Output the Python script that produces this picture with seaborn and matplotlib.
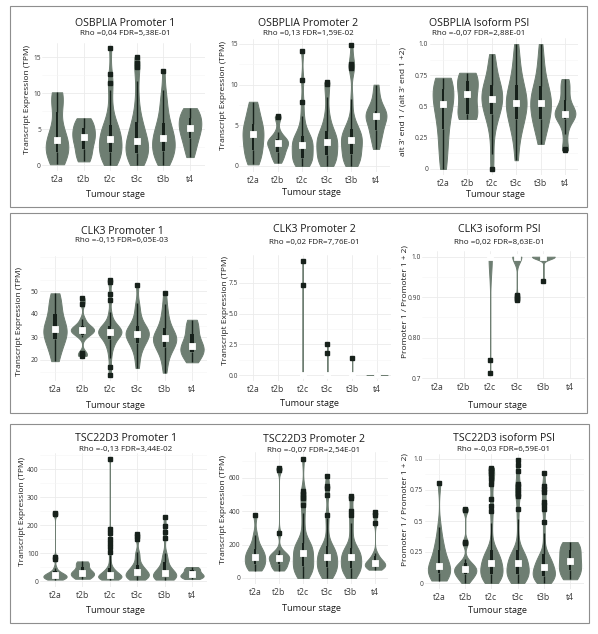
import numpy as np
import pandas as pd
import matplotlib
matplotlib.use("Agg")
import matplotlib.pyplot as plt
import seaborn as sns
from matplotlib.patches import Rectangle
from matplotlib.ticker import AutoMinorLocator

# ---------------- data ----------------
STAGES = ["t2a", "t2b", "t2c", "t3c", "t3b", "t4"]

# OSBPLIA Promoter 1 (TPM)
OSB_P1_T2A = [0.1, 0.8, 1.3, 1.6, 2.1, 2.6, 3.0, 3.5, 3.9, 4.6, 6.0, 8.6, 9.1, 9.6, 10.1]
OSB_P1_T2B = [0.5, 0.9, 1.6, 2.2, 2.9, 3.5, 3.9, 4.1, 4.6, 5.2, 5.7, 6.1, 6.5]
OSB_P1_T2C = [0.0, 0.2, 0.5, 0.8, 1.1, 1.3, 1.6, 1.8, 2.1, 2.4, 2.7, 2.9, 3.1, 3.4, 3.6,
              3.9, 4.2, 4.5, 4.8, 5.1, 5.4, 5.6, 6.3, 7.2, 8.4, 10.4, 11.4, 12.7, 16.2]
OSB_P1_T3C = [0.0, 0.2, 0.4, 0.7, 1.0, 1.2, 1.5, 1.7, 2.0, 2.3, 2.5, 2.8, 3.0, 3.2, 3.4,
              3.7, 4.0, 4.4, 4.8, 5.3, 5.8, 6.0, 6.9, 8.0, 9.5, 11.7, 13.6, 14.2, 15.0]
OSB_P1_T3B = [0.0, 0.4, 0.8, 1.1, 1.4, 1.7, 2.0, 2.3, 2.6, 2.9, 3.2, 3.4, 3.7, 4.0, 4.3,
              4.7, 5.1, 5.5, 5.9, 6.6, 7.4, 8.3, 9.2, 10.4, 13.0]
OSB_P1_T4 = [1.1, 2.2, 3.0, 3.7, 4.3, 4.8, 5.2, 5.6, 6.1, 6.5, 7.0, 7.5, 7.9]

# OSBPLIA Promoter 2 (TPM)
OSB_P2_T2A = [0.2, 0.9, 1.5, 2.0, 2.7, 3.3, 3.9, 4.3, 4.7, 5.2, 6.0, 7.0, 7.9]
OSB_P2_T2B = [0.4, 0.8, 1.2, 1.5, 1.7, 2.0, 2.3, 2.6, 2.8, 2.9, 3.0, 3.1, 3.3, 3.5, 4.2, 6.0, 6.1]
OSB_P2_T2C = [0.0, 0.2, 0.3, 0.5, 0.7, 0.9, 1.0, 1.3, 1.6, 1.9, 2.1, 2.4, 2.6, 2.8, 3.0,
              3.2, 3.4, 3.5, 3.7, 4.3, 5.0, 6.2, 7.9, 10.6, 14.2]
OSB_P2_T3C = [0.0, 0.2, 0.4, 0.6, 0.8, 1.0, 1.3, 1.6, 1.9, 2.2, 2.5, 2.7, 2.9, 3.1, 3.3,
              3.6, 3.8, 4.0, 4.3, 4.9, 5.6, 6.6, 8.5, 10.1, 10.3]
OSB_P2_T3B = [0.0, 0.2, 0.4, 0.6, 0.8, 1.0, 1.2, 1.5, 1.8, 2.1, 2.4, 2.6, 2.8, 3.0, 3.2,
              3.4, 3.6, 3.8, 4.0, 4.2, 4.4, 4.6, 5.2, 6.0, 8.2, 12.0, 12.3, 12.6, 14.9]
OSB_P2_T4 = [2.1, 3.2, 4.0, 4.4, 5.2, 5.7, 6.1, 6.3, 6.5, 6.8, 7.5, 8.6, 10.0]

# OSBPLIA isoform PSI
OSB_PSI_T2A = [0.0, 0.12, 0.22, 0.32, 0.40, 0.47, 0.52, 0.56, 0.60, 0.64, 0.68, 0.71, 0.73]
OSB_PSI_T2B = [0.40, 0.42, 0.44, 0.52, 0.60, 0.64, 0.70, 0.75, 0.77]
OSB_PSI_T2C = [0.0, 0.12, 0.25, 0.33, 0.38, 0.42, 0.44, 0.47, 0.49, 0.51, 0.53, 0.55, 0.56,
               0.58, 0.60, 0.62, 0.64, 0.66, 0.67, 0.70, 0.73, 0.77, 0.82, 0.87, 0.92]
OSB_PSI_T3C = [0.07, 0.18, 0.26, 0.31, 0.35, 0.38, 0.40, 0.43, 0.46, 0.48, 0.50, 0.52, 0.53,
               0.55, 0.57, 0.59, 0.62, 0.64, 0.67, 0.70, 0.74, 0.79, 0.85, 0.92, 1.0]
OSB_PSI_T3B = [0.20, 0.25, 0.30, 0.34, 0.37, 0.39, 0.40, 0.43, 0.46, 0.48, 0.50, 0.52, 0.53,
               0.55, 0.57, 0.59, 0.61, 0.63, 0.66, 0.69, 0.73, 0.78, 0.84, 0.91, 1.0]
OSB_PSI_T4 = [0.15, 0.16, 0.28, 0.35, 0.40, 0.42, 0.43, 0.44, 0.44, 0.46, 0.48, 0.51, 0.55,
              0.60, 0.65, 0.69, 0.72]

# CLK3 Promoter 1 (TPM)
CLK_P1_T2A = [19.5, 24, 27, 29, 31, 32.5, 33.5, 34.5, 36, 40, 43, 46, 49]
CLK_P1_T2B = [21.8, 22.5, 23.0, 30.0, 31.0, 31.8, 32.3, 32.7, 33.0, 33.3, 33.7, 34.2, 35.0,
              36.0, 38.0, 44.5, 47.0]
CLK_P1_T2C = [13.5, 17.0, 21.0, 23.5, 25.5, 26.5, 27.5, 28.3, 29.0, 29.7, 30.3, 30.8, 31.2,
              31.5, 31.7, 31.9, 32.0, 32.3, 32.7, 33.0, 33.5, 34.0, 34.4, 34.8, 35.0, 35.8,
              36.8, 38.5, 41.0, 46.0, 48.5, 54.0, 55.0]
CLK_P1_T3C = [16.5, 20.0, 22.5, 24.5, 26.0, 27.0, 27.5, 28.5, 29.3, 30.0, 30.6, 31.1, 31.5,
              31.9, 32.3, 32.8, 33.5, 34.2, 35.0, 36.0, 37.5, 39.5, 42.0, 45.0, 52.5]
CLK_P1_T3B = [14.5, 18.0, 20.5, 22.5, 24.0, 25.0, 25.5, 26.5, 27.3, 28.0, 28.6, 29.1, 29.5,
              30.0, 30.6, 31.3, 32.0, 33.0, 34.0, 35.5, 37.0, 39.0, 41.5, 44.5, 49.0]
CLK_P1_T4 = [19.0, 21.5, 23.0, 24.0, 25.0, 26.0, 27.5, 30.0, 33.0, 35.5, 37.5]

# CLK3 Promoter 2 (TPM) - mostly zero
CLK_P2_T2C = [0, 0, 0, 0, 0, 0, 0, 0, 0, 0, 0, 0, 7.3, 9.3]
CLK_P2_T3C = [0, 0, 0, 0, 0, 0, 0, 0, 0, 0, 0, 0, 1.8, 2.5]
CLK_P2_T3B = [0, 0, 0, 0, 0, 0, 0, 0, 0, 0, 0, 0, 1.4]
CLK_P2_T4 = [0, 0, 0, 0, 0, 0, 0, 0, 0, 0.01]

# CLK3 isoform PSI - mostly one
CLK_PSI_T2C = [1.0, 1.0, 1.0, 1.0, 1.0, 1.0, 1.0, 1.0, 1.0, 1.0, 1.0, 1.0, 1.0, 1.0, 1.0,
               1.0, 1.0, 1.0, 0.713, 0.745]
CLK_PSI_T3C = [1.0, 1.0, 1.0, 1.0, 1.0, 1.0, 1.0, 1.0, 1.0, 1.0, 1.0, 1.0, 1.0, 1.0, 1.0,
               1.0, 1.0, 1.0, 1.0, 1.0, 1.0, 1.0, 1.0, 1.0, 1.0, 1.0, 1.0, 1.0, 1.0, 1.0,
               1.0, 1.0, 1.0, 1.0, 1.0, 0.893, 0.896, 0.899, 0.902, 0.905]
CLK_PSI_T3B = [1.0, 1.0, 1.0, 1.0, 1.0, 1.0, 1.0, 1.0, 1.0, 1.0, 1.0, 1.0, 1.0, 1.0, 1.0,
               1.0, 1.0, 1.0, 1.0, 1.0, 0.94]

# TSC22D3 Promoter 1 (TPM)
TSC_P1_T2A = [5, 7, 8, 10, 11, 12, 14, 16, 18, 20, 21, 23, 25, 27, 30, 35, 48, 80, 85, 238, 242]
TSC_P1_T2B = [8, 12, 18, 25, 28, 30, 33, 45, 58, 65, 70]
TSC_P1_T2C = [5, 6, 7, 8, 9, 10, 10, 11, 11, 12, 12, 12, 13, 14, 15, 16, 17, 18, 19, 20, 21,
              22, 24, 25, 27, 29, 31, 33, 35, 37, 39, 41, 45, 52, 60, 75, 92, 105, 120, 135,
              150, 170, 185, 435]
TSC_P1_T3C = [5, 7, 9, 10, 12, 13, 15, 17, 19, 21, 23, 25, 27, 29, 31, 33, 36, 39, 42, 46,
              50, 55, 60, 70, 85, 95, 105, 150, 160, 168]
TSC_P1_T3B = [5, 6, 8, 9, 11, 12, 13, 15, 16, 18, 20, 22, 24, 26, 28, 30, 33, 36, 40, 45,
              52, 60, 70, 80, 90, 100, 155, 175, 195, 228]
TSC_P1_T4 = [7, 10, 13, 16, 19, 21, 24, 28, 33, 38, 43, 47, 50]

# TSC22D3 Promoter 2 (TPM)
TSC_P2_T2A = [45, 55, 65, 80, 90, 105, 118, 128, 140, 152, 165, 180, 210, 260, 378]
TSC_P2_T2B = [45, 55, 62, 70, 78, 88, 98, 108, 115, 120, 125, 130, 136, 142, 150, 170, 270,
              650, 662]
TSC_P2_T2C = [0, 8, 18, 28, 38, 46, 54, 62, 68, 72, 80, 90, 100, 110, 120, 130, 140, 148,
              156, 165, 174, 182, 190, 197, 203, 208, 215, 270, 330, 390, 440, 480, 505,
              525, 712]
TSC_P2_T3C = [0, 8, 16, 25, 34, 42, 50, 57, 63, 67, 74, 82, 90, 98, 106, 113, 119, 125, 132,
              140, 148, 156, 164, 172, 180, 186, 194, 230, 290, 360, 380, 500, 540, 555, 610]
TSC_P2_T3B = [0, 10, 20, 30, 40, 48, 54, 58, 62, 70, 78, 86, 95, 104, 112, 118, 124, 130,
              137, 144, 152, 160, 168, 174, 180, 200, 240, 290, 330, 380, 400, 480, 495]
TSC_P2_T4 = [50, 58, 64, 68, 72, 76, 80, 86, 92, 98, 105, 115, 130, 150, 330, 380, 395]

# TSC22D3 isoform PSI
TSC_PSI_T2A = [0.02, 0.04, 0.05, 0.06, 0.08, 0.10, 0.12, 0.13, 0.14, 0.16, 0.19, 0.22, 0.27,
               0.30, 0.35, 0.45, 0.81]
TSC_PSI_T2B = [0.0, 0.02, 0.04, 0.05, 0.06, 0.07, 0.08, 0.09, 0.10, 0.105, 0.11, 0.12, 0.13,
               0.14, 0.15, 0.16, 0.19, 0.32, 0.33, 0.59, 0.60]
TSC_PSI_T2C = [0.0, 0.01, 0.02, 0.025, 0.03, 0.04, 0.045, 0.05, 0.055, 0.06, 0.065, 0.07,
               0.08, 0.09, 0.10, 0.11, 0.12, 0.125, 0.13, 0.14, 0.15, 0.155, 0.16, 0.17,
               0.18, 0.19, 0.20, 0.21, 0.22, 0.23, 0.24, 0.25, 0.26, 0.27, 0.35, 0.48, 0.58,
               0.62, 0.68, 0.80, 0.84, 0.88, 0.90, 0.92, 0.93]
TSC_PSI_T3C = [0.0, 0.01, 0.02, 0.025, 0.03, 0.04, 0.045, 0.05, 0.055, 0.06, 0.065, 0.07,
               0.08, 0.09, 0.10, 0.11, 0.12, 0.125, 0.13, 0.14, 0.15, 0.155, 0.16, 0.17,
               0.18, 0.19, 0.20, 0.21, 0.22, 0.23, 0.24, 0.25, 0.26, 0.27, 0.38, 0.52, 0.60,
               0.70, 0.72, 0.75, 0.78, 0.80, 0.90, 0.95, 0.99]
TSC_PSI_T3B = [0.0, 0.01, 0.015, 0.02, 0.025, 0.03, 0.035, 0.04, 0.045, 0.05, 0.06, 0.07,
               0.075, 0.08, 0.09, 0.095, 0.10, 0.11, 0.115, 0.12, 0.13, 0.14, 0.15, 0.16,
               0.17, 0.18, 0.19, 0.20, 0.21, 0.22, 0.23, 0.30, 0.40, 0.49, 0.60, 0.63, 0.65,
               0.73, 0.76, 0.78, 0.89]
TSC_PSI_T4 = [0.03, 0.06, 0.09, 0.12, 0.15, 0.18, 0.21, 0.25, 0.28, 0.31, 0.33]

TITLES = ["OSBPLIA Promoter 1", "OSBPLIA Promoter 2", "OSBPLIA Isoform PSI",
          "CLK3 Promoter 1", "CLK3 Promoter 2", "CLK3 isoform PSI",
          "TSC22D3 Promoter 1", "TSC22D3 Promoter 2", "TSC22D3 isoform PSI"]
SUBTITLES = ["Rho =0,04 FDR=5,38E-01", "Rho =0,13 FDR=1,59E-02", "Rho =-0,07 FDR=2,88E-01",
             "Rho =-0,15 FDR=6,05E-03", "Rho =0,02 FDR=7,76E-01", "Rho =0,02 FDR=8,63E-01",
             "Rho =-0,13 FDR=3,44E-02", "Rho =-0,07 FDR=2,54E-01", "Rho =-0,03 FDR=6,59E-01"]
YLAB_TPM = "Transcript Expression (TPM)"
YLAB_ALT = "alt 3' end 1 / (alt 3' end 1 +2)"
YLAB_PSI = "Promoter 1 / Promoter 1 + 2)"
XLAB = "Tumour stage"

YTICKS = [[0, 5, 10, 15], [0, 5, 10, 15], [0, 0.25, 0.5, 0.75, 1.0],
          [20, 30, 40, 50], [0.0, 2.5, 5.0, 7.5], [0.7, 0.8, 0.9, 1.0],
          [0, 100, 200, 300, 400], [0, 200, 400, 600], [0, 0.25, 0.5, 0.75, 1.0]]
YTICKLABELS = [["0", "5", "10", "15"], ["0", "5", "10", "15"], ["0", "0.25", "0.5", "0.75", "1.0"],
               ["20", "30", "40", "50"], ["0.0", "2.5", "5.0", "7.5"], ["0.7", "0.80", "0.90", "1.0"],
               ["0", "100", "200", "300", "400"], ["0", "200", "400", "600"],
               ["0", "0.25", "0.5", "0.75", "1.0"]]

DATA = [
    dict(zip(STAGES, [OSB_P1_T2A, OSB_P1_T2B, OSB_P1_T2C, OSB_P1_T3C, OSB_P1_T3B, OSB_P1_T4])),
    dict(zip(STAGES, [OSB_P2_T2A, OSB_P2_T2B, OSB_P2_T2C, OSB_P2_T3C, OSB_P2_T3B, OSB_P2_T4])),
    dict(zip(STAGES, [OSB_PSI_T2A, OSB_PSI_T2B, OSB_PSI_T2C, OSB_PSI_T3C, OSB_PSI_T3B, OSB_PSI_T4])),
    dict(zip(STAGES, [CLK_P1_T2A, CLK_P1_T2B, CLK_P1_T2C, CLK_P1_T3C, CLK_P1_T3B, CLK_P1_T4])),
    {"t2c": CLK_P2_T2C, "t3c": CLK_P2_T3C, "t3b": CLK_P2_T3B, "t4": CLK_P2_T4},
    {"t2c": CLK_PSI_T2C, "t3c": CLK_PSI_T3C, "t3b": CLK_PSI_T3B},
    dict(zip(STAGES, [TSC_P1_T2A, TSC_P1_T2B, TSC_P1_T2C, TSC_P1_T3C, TSC_P1_T3B, TSC_P1_T4])),
    dict(zip(STAGES, [TSC_P2_T2A, TSC_P2_T2B, TSC_P2_T2C, TSC_P2_T3C, TSC_P2_T3B, TSC_P2_T4])),
    dict(zip(STAGES, [TSC_PSI_T2A, TSC_PSI_T2B, TSC_PSI_T2C, TSC_PSI_T3C, TSC_PSI_T3B, TSC_PSI_T4])),
]

# ---------------- layout / style ----------------
W, H = 598, 634
VIOLIN = "#6e7e72"
BOXC = "#17211b"
GRID = "#ebebeb"
GRID_MINOR = "#f5f5f5"

# pixel anchors: x of first/last category, two (value, y-pixel) pairs, y-limits
LAYOUT = [
    dict(xa=(57, 190), ya=((0, 165), (15, 57)), ylim=(-0.81, 17.0), norm="width",
         title=(125, 26.5, 34.7), ylab=(28, 99), xlab=(115.5, 197)),
    dict(xa=(253, 376), ya=((0, 166), (15, 44)), ylim=(-0.75, 15.65), norm="width",
         title=(308, 26, 34.7), ylab=(224, 95), xlab=(311, 195)),
    dict(xa=(443, 565), ya=((0, 169), (1, 44)), ylim=(-0.05, 1.05), norm="width",
         title=(479, 26, 34.7), ylab=(403, 102), xlab=(496, 196.7)),
    dict(xa=(55, 192), ya=((20, 360), (50, 291)), ylim=(10.9, 65.2), norm="width",
         title=(122, 234.3, 242.3), ylab=(20, 321), xlab=(115, 407.7)),
    dict(xa=(253, 377), ya=((0, 375), (7.5, 283)), ylim=(-0.465, 9.77), norm="area",
         title=(314, 231.7, 243.7), ylab=(225, 310), xlab=(310, 406)),
    dict(xa=(437, 570), ya=((0.7, 378.3), (1.0, 256.7)), ylim=(0.6986, 1.0144), norm="area",
         title=(499, 231.7, 243.7), ylab=(405, 302), xlab=(498, 407.7)),
    dict(xa=(55, 192), ya=((0, 581), (400, 469)), ylim=(-21.5, 456.5), norm="width",
         title=(126, 440.7, 450.7), ylab=(22, 512), xlab=(115.5, 613.3)),
    dict(xa=(255, 375), ya=((0, 578), (600, 478)), ylim=(-36, 756), norm="width",
         title=(314, 441.7, 451.7), ylab=(224, 510), xlab=(311, 611)),
    dict(xa=(439, 570), ya=((0, 583), (1, 459)), ylim=(-0.05, 1.04), norm="width",
         title=(504, 440.7, 450.7), ylab=(405, 510), xlab=(498, 613.3)),
]
YLABELS = [YLAB_TPM, YLAB_TPM, YLAB_ALT, YLAB_TPM, YLAB_TPM, YLAB_PSI, YLAB_TPM, YLAB_TPM, YLAB_PSI]
ROW_BOXES = [(10, 6, 587, 207), (10, 213, 587, 413), (10, 424, 589, 623)]


def nrd0(kde):
    """R-style default bandwidth (bw.nrd0) expressed as a scipy factor."""
    x = np.asarray(kde.dataset).ravel()
    n = x.size
    sd = x.std(ddof=1)
    q75, q25 = np.percentile(x, [75, 25])
    lo = min(sd, (q75 - q25) / 1.34)
    if lo <= 0:
        lo = sd
    return 0.9 * lo / sd * n ** -0.2


sns.set_theme(style="white")
plt.rcParams["font.family"] = ["Open Sans", "DejaVu Sans"]

fig = plt.figure(figsize=(W / 100, H / 100), dpi=100)
fig.patch.set_facecolor("white")

for (x0, y0, x1, y1) in ROW_BOXES:
    fig.patches.append(Rectangle((x0 / W, 1 - y1 / H), (x1 - x0) / W, (y1 - y0) / H,
                                 transform=fig.transFigure, fill=False,
                                 edgecolor="#8e8e8e", linewidth=0.8))

XLIM = (-0.55, 5.55)


def fx(px):
    return px / W


def fy(py):
    return 1 - py / H


for i, lay in enumerate(LAYOUT):
    xa0, xa5 = lay["xa"]
    s = (xa5 - xa0) / 5
    left = xa0 + XLIM[0] * s
    right = xa0 + XLIM[1] * s
    (v1, p1), (v2, p2) = lay["ya"]
    k = (p1 - p2) / (v2 - v1)
    ylo, yhi = lay["ylim"]
    top = p1 - (yhi - v1) * k
    bottom = p1 + (v1 - ylo) * k
    ax = fig.add_axes([left / W, 1 - bottom / H, (right - left) / W, (bottom - top) / H])

    d = DATA[i]
    df = pd.DataFrame([(st, v) for st, vals in d.items() for v in vals], columns=["stage", "value"])

    sns.violinplot(data=df, x="stage", y="value", order=STAGES, color=VIOLIN, saturation=1,
                   inner=None, cut=0, density_norm=lay["norm"], width=0.85, linewidth=0.7,
                   linecolor=VIOLIN, bw_method=nrd0, ax=ax)
    sns.boxplot(data=df, x="stage", y="value", order=STAGES, color=BOXC, saturation=1,
                width=0.11, linewidth=1.0, linecolor=BOXC, showcaps=False, fliersize=2.2,
                boxprops=dict(linewidth=0),
                flierprops=dict(marker="s", markerfacecolor=BOXC, markeredgecolor=BOXC),
                medianprops=dict(linewidth=0, color=BOXC), ax=ax)
    sns.pointplot(data=df, x="stage", y="value", order=STAGES, estimator="median",
                  errorbar=None, color="white", marker="s", markersize=2.6,
                  markeredgecolor="white", linestyle="none", ax=ax)

    ax.set_xlim(*XLIM)
    ax.set_ylim(ylo, yhi)
    ax.set_yticks(YTICKS[i])
    ax.set_yticklabels(YTICKLABELS[i])
    ax.yaxis.set_minor_locator(AutoMinorLocator(2))
    ax.set_xticks(range(len(STAGES)))
    ax.set_xticklabels(STAGES)
    ax.set_xlabel("")
    ax.set_ylabel("")
    ax.set_facecolor("white")
    for sp in ax.spines.values():
        sp.set_visible(False)
    ax.set_axisbelow(True)
    ax.grid(True, which="major", axis="both", color=GRID, linewidth=0.6)
    ax.grid(True, which="minor", axis="y", color=GRID_MINOR, linewidth=0.4)
    ax.tick_params(axis="both", which="both", length=0)
    ax.tick_params(axis="x", labelsize=6.2, pad=3, colors="#3a3a3a")
    ax.tick_params(axis="y", labelsize=4.8, pad=1.0, colors="#3a3a3a")

    tx, ty, sy = lay["title"]
    fig.text(fx(tx), fy(ty), TITLES[i], ha="center", va="baseline", fontsize=7.6, color="#1a1a1a")
    fig.text(fx(tx), fy(sy), SUBTITLES[i], ha="center", va="baseline", fontsize=5.8, color="#1a1a1a")
    lx, ly = lay["ylab"]
    fig.text(fx(lx), fy(ly), YLABELS[i], ha="center", va="center", rotation=90,
             fontsize=6.0, color="#1a1a1a")
    bx, by = lay["xlab"]
    fig.text(fx(bx), fy(by), XLAB, ha="center", va="baseline", fontsize=6.6, color="#1a1a1a")

fig.savefig("out.png", dpi=100, facecolor="white")
